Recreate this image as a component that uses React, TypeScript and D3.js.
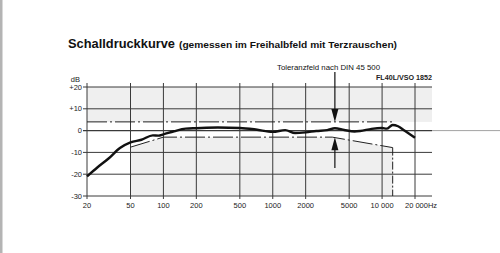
import React from "react";
import * as d3 from "d3";

const freqs = [20, 25, 31.5, 40, 50, 63, 80, 90, 100, 125, 160, 200, 315, 500, 700, 1000, 1300, 1600, 2000, 2500, 3150, 3700, 4500, 5600, 6300, 8000, 10000, 11000, 12500, 14000, 16000, 20000];
const response = [-21, -16.8, -12.8, -8, -5.4, -4.2, -2.2, -2.3, -1.7, -0.3, 0.9, 1.1, 1.4, 1.2, 0.5, -0.6, 0.2, -1.1, -0.8, -0.2, 0.2, 1.1, 0.3, -0.4, -0.2, 0.8, 1.2, 0.9, 2.6, 2.0, 0, -3.3];

const upperFreqs = [20, 12500];
const upperLimit = [4, 4];
const lowerFreqs = [50, 100, 3500, 12500];
const lowerLimit = [-7.6, -3, -3, -7.8];

const xTicks = [20, 50, 100, 200, 500, 1000, 2000, 5000, 10000, 20000];
const xTickLabels = ["20", "50", "100", "200", "500", "1000", "2000", "5000", "10 000", "20 000Hz"];
const yTicks = [20, 10, 0, -10, -20, -30];
const yTickLabels = ["+20", "+10", "0", "-10", "-20", "-30"];

const font = "'Liberation Sans', Arial, Helvetica, sans-serif";

export default function App() {
  const x = d3.scaleLog().domain([20, 20000]).range([87, 415]);
  const y = d3.scaleLinear().domain([-30, 20]).range([196, 87]);
  const gridRight = 432;
  const x0 = x(20);

  const curve = d3
    .line<number>()
    .x((_, i) => x(freqs[i]))
    .y((d) => y(d))
    .curve(d3.curveMonotoneX);

  const lowerLine = d3
    .line<number>()
    .x((_, i) => x(lowerFreqs[i]))
    .y((d) => y(d));

  const upperLine = d3
    .line<number>()
    .x((_, i) => x(upperFreqs[i]))
    .y((d) => y(d));

  const lowerArea = d3
    .area<number>()
    .x((_, i) => x(lowerFreqs[i]))
    .y0(y(-30))
    .y1((d) => y(d));

  const arrowX = x(3700);
  const upY = y(4);
  const loY = y(-3);
  const dash = "20,3,2,3";

  return (
    <svg width={500} height={253} style={{ position: "absolute", left: 0, top: 0, background: "#fff" }}>
      <rect x={0} y={0} width={2.5} height={253} fill="#b4b4b4" />

      <text x={68} y={48} fontFamily={font} fontSize={13} fontWeight="bold" fill="#111" textLength={107} lengthAdjust="spacingAndGlyphs">
        Schalldruckkurve
      </text>
      <text x={179} y={48} fontFamily={font} fontSize={9.5} fontWeight="bold" fill="#111" textLength={218} lengthAdjust="spacingAndGlyphs">
        (gemessen im Freihalbfeld mit Terzrauschen)
      </text>

      {/* shaded zones outside tolerance field */}
      <rect x={x0} y={y(20)} width={gridRight - x0} height={y(4) - y(20)} fill="#efefef" />
      <path d={lowerArea(lowerLimit) || ""} fill="#efefef" />

      {/* horizontal grid */}
      {yTicks.map((t) => (
        <line key={"h" + t} x1={83} x2={gridRight} y1={y(t)} y2={y(t)} stroke="#3a3a3a" strokeWidth={t === 0 ? 1.3 : 1} />
      ))}
      <line x1={gridRight} x2={500} y1={y(0)} y2={y(0)} stroke="#8a8a8a" strokeWidth={0.8} />

      {/* vertical grid */}
      {xTicks.map((t) => (
        <line key={"v" + t} x1={x(t)} x2={x(t)} y1={y(20) - 4} y2={y(-30) + 3} stroke="#3a3a3a" strokeWidth={1} />
      ))}

      {/* y labels */}
      <text x={80} y={82} fontFamily={font} fontSize={7.5} textAnchor="end" fill="#222">dB</text>
      {yTicks.map((t, i) => (
        <text key={"yl" + t} x={82} y={y(t) + 2.6} fontFamily={font} fontSize={7.5} textAnchor="end" fill="#222">
          {yTickLabels[i]}
        </text>
      ))}

      {/* x labels */}
      {xTicks.map((t, i) => (
        <text
          key={"xl" + t}
          x={i === xTicks.length - 1 ? x(t) - 10 : x(t)}
          y={208}
          fontFamily={font}
          fontSize={7.5}
          textAnchor={i === xTicks.length - 1 ? "start" : "middle"}
          fill="#222"
        >
          {xTickLabels[i]}
        </text>
      ))}

      {/* tolerance lines */}
      <path d={upperLine(upperLimit) || ""} fill="none" stroke="#222" strokeWidth={1} strokeDasharray={dash} />
      <path d={lowerLine(lowerLimit) || ""} fill="none" stroke="#222" strokeWidth={1} strokeDasharray={dash} />
      <line x1={x(12500)} x2={x(12500)} y1={y(-7.8)} y2={y(-30)} stroke="#222" strokeWidth={1} strokeDasharray="8,2,2,2" />

      {/* response curve */}
      <path d={curve(response) || ""} fill="none" stroke="#111" strokeWidth={2.4} strokeLinejoin="round" />

      {/* arrows */}
      <line x1={arrowX} x2={arrowX} y1={72} y2={upY - 8} stroke="#111" strokeWidth={1.2} />
      <path d={`M${arrowX - 3.5},${upY - 13} L${arrowX + 3.5},${upY - 13} L${arrowX},${upY} Z`} fill="#111" />
      <line x1={arrowX} x2={arrowX} y1={loY + 8} y2={168} stroke="#111" strokeWidth={1.2} />
      <path d={`M${arrowX - 3.5},${loY + 13} L${arrowX + 3.5},${loY + 13} L${arrowX},${loY} Z`} fill="#111" />

      <text x={277} y={70} fontFamily={font} fontSize={7.8} fill="#111" textLength={103} lengthAdjust="spacingAndGlyphs">
        Toleranzfeld nach DIN 45 500
      </text>
      <text x={376} y={80} fontFamily={font} fontSize={7} fontWeight="bold" fill="#222" textLength={56} lengthAdjust="spacingAndGlyphs">
        FL40L/VSO 1852
      </text>
    </svg>
  );
}
